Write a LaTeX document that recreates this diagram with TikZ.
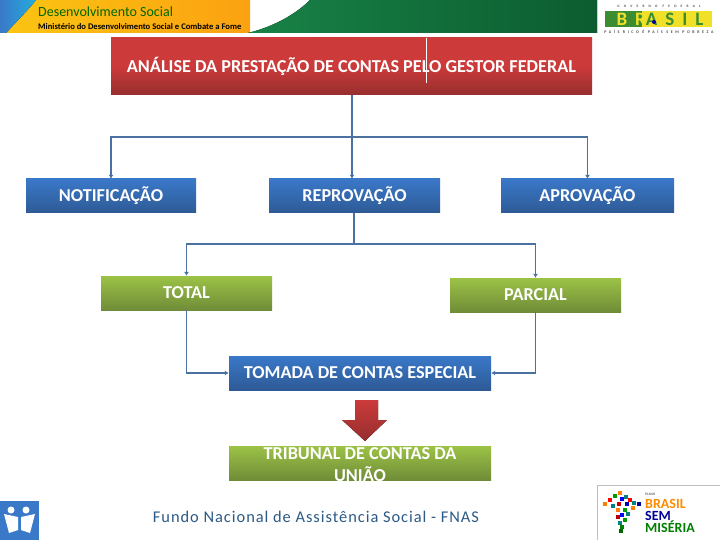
\documentclass[tikz,border=0pt]{standalone}
\usepackage{fontspec}
\setmainfont{Carlito}
\definecolor{red1}{RGB}{204, 58, 58}
\definecolor{red2}{RGB}{150, 46, 46}
\definecolor{blue1}{RGB}{58, 120, 200}
\definecolor{blue2}{RGB}{46, 90, 150}
\definecolor{green1}{RGB}{156, 194, 70}
\definecolor{green2}{RGB}{112, 140, 56}
\definecolor{link1}{RGB}{74, 113, 160}
\definecolor{flag1}{RGB}{12, 92, 48}
\definecolor{flag2}{RGB}{250, 190, 20}
\definecolor{flag3}{RGB}{24, 130, 70}
\definecolor{title1}{RGB}{44, 90, 133}
\definecolor{logo1}{RGB}{60, 140, 50}
\definecolor{logo2}{RGB}{240, 225, 40}
\usetikzlibrary{arrows.meta, positioning, calc}
\tikzset{
  boxfont/.style={text=white, font=\fontsize{18.2}{22}\selectfont\bfseries, align=center},
  boxbase/.style={boxfont, minimum height=34pt, inner sep=0pt},
  bluebox/.style={boxbase, top color=blue1, bottom color=blue2},
  greenbox/.style={boxbase, top color=green1, bottom color=green2},
  link/.style={draw=link1, line width=1.5pt},
  linkto/.style={link, -{Latex[length=4pt,width=5pt]}}
}
\begin{document}
\begin{tikzpicture}[x=1pt, y=-1pt]
  \useasboundingbox (0,0) rectangle (720,540);
  \fill[white] (0,0) rectangle (720,540);
  % header band
  \fill[left color=flag2!90!yellow, right color=flag2!85!red] (0,0) rectangle (250,33);
  \fill[left color=flag3, right color=flag1] (248,33) .. controls (280,25) and (300,10) .. (310,0) -- (597,0) -- (597,33) -- cycle;
  \fill[left color=blue1, right color=blue1!60!cyan] (0,0) -- (36,0) .. controls (28,10) and (18,20) .. (6,33) -- (0,33) -- cycle;
  \node[anchor=west, inner sep=0pt, text=green!40!black, font=\fontsize{14}{14}\selectfont] (headline) at (38,12) {Desenvolvimento Social};
  \node[below=6pt of headline.south west, anchor=north west, inner sep=0pt, font=\fontsize{8.6}{9}\selectfont\bfseries] (headsub) {Ministério do Desenvolvimento Social e Combate a Fome};
  % logo
  \node[inner sep=0pt, font=\fontsize{3.5}{3.5}\selectfont\bfseries\addfontfeature{LetterSpace=120}, text=black!70] (logotop) at (659,6) {GOVERNO FEDERAL};
  \fill[logo1] (605,11) rectangle (642,27);
  \fill[logo2] (642,11) rectangle (712,27);
  \node[inner sep=0pt, font=\fontsize{19}{19}\selectfont\bfseries\addfontfeature{LetterSpace=42}] (logoname) at (660,19) {\textcolor{logo2}{BR}\textcolor{logo1}{ASIL}};
  \fill[blue!60!black] (654,22) circle (2);
  \node[inner sep=0pt, font=\fontsize{4}{4}\selectfont\bfseries\addfontfeature{LetterSpace=65}, text=black!70] (logosub) at (659,32) {PAÍS RICO É PAÍS SEM POBREZA};
  % boxes
  \node[boxbase, minimum width=481pt, minimum height=57pt, top color=red1, bottom color=red2, middle color=red1] (analise) at (351.5,66.5) {ANÁLISE DA PRESTAÇÃO DE CONTAS PELO GESTOR FEDERAL};
  \draw[white] (426,38) -- (426,83);
  \node[bluebox, minimum width=170pt] (notificacao) at (111,196) {NOTIFICAÇÃO};
  \node[bluebox, minimum width=171pt] (reprovacao) at (354.5,196) {REPROVAÇÃO};
  \node[bluebox, minimum width=173pt] (aprovacao) at (587.5,196) {APROVAÇÃO};
  \node[greenbox, minimum width=171pt] (total) at (186.5,293) {TOTAL};
  \node[greenbox, minimum width=171pt] (parcial) at (535.5,295) {PARCIAL};
  \node[bluebox, minimum width=262pt] (tomada) at (360,373) {TOMADA DE CONTAS ESPECIAL};
  \node[greenbox, minimum width=262pt, label={[boxfont, inner sep=0pt, yshift=-1.5pt]center:TRIBUNAL DE CONTAS DA\\UNIÃO}] (tribunal) at (360,463) {};
  % connectors
  \coordinate (split1) at (352,137);
  \coordinate (split2) at (354,244);
  \draw[linkto] (analise.south -| split1) -- (reprovacao.north -| split1);
  \draw[linkto] (split1) -| (notificacao.north);
  \draw[linkto] (split1) -| (aprovacao.north);
  \draw[link] (reprovacao.south -| split2) -- (split2);
  \draw[linkto] (split2) -| (total.north);
  \draw[linkto] (split2) -| (parcial.north);
  \draw[linkto] (total.south) |- (tomada.west);
  \draw[linkto] (parcial.south) |- (tomada.east);
  % down arrow
  \fill[top color=red1, bottom color=red2] (355,400) -- (378,400) -- (378,420) -- (387,420) -- (365,441) -- (342,420) -- (355,420) -- cycle;
  % footer
  \node[text=title1, font=\fontsize{16.4}{18}\selectfont\addfontfeature{LetterSpace=6}, inner sep=0pt] (fundo) at (316,517) {Fundo Nacional de Assistência Social - FNAS};
  \fill[blue1] (0,501) rectangle (39,540);
  \fill[white] (4,514) -- (18,517) -- (18,530) -- (9,533) -- cycle;
  \fill[white] (35,514) -- (21,517) -- (21,530) -- (30,533) -- cycle;
  \fill[white] (11,510) circle (3.5);
  \fill[white] (26,510) circle (3.5);
  \draw[black!25] (597,540) -- (597,485) -- (720,485);
  \foreach \px/\py/\pc in {605/504/orange, 610/500/red, 613/506/teal, 615/496/green!60!black, 620/493/orange, 622/499/blue, 619/504/red!80!black, 626/497/teal, 630/500/red, 627/504/blue!70!black, 634/503/teal, 639/504/blue!60!black, 633/508/orange, 625/510/green!60!black, 618/510/orange, 622/515/blue, 628/514/teal, 618/517/red!70!black, 625/520/green!60!black, 620/523/teal, 622/527/green!50!black, 621/531/green!40!black} {
    \fill[\pc] (\px-2.2,\py-2.2) rectangle ++(4.4,4.4);
  }
  \node[inner sep=0pt, font=\fontsize{3.5}{3.5}\selectfont\bfseries, text=black!60, anchor=west] (brasillabel) at (645,494) {PLANO};
  \node[inner sep=0pt, font=\fontsize{14}{14}\selectfont\bfseries, text=orange!90!yellow, anchor=west] (brasilword) at (645,504) {BRASIL};
  \node[inner sep=0pt, font=\fontsize{14}{14}\selectfont\bfseries, text=blue!60!black, anchor=west] (semword) at (645,515.5) {SEM};
  \node[inner sep=0pt, font=\fontsize{14}{14}\selectfont\bfseries, text=green!50!black, anchor=west] (miseriaword) at (645,526.5) {MISÉRIA};
\end{tikzpicture}
\end{document}
